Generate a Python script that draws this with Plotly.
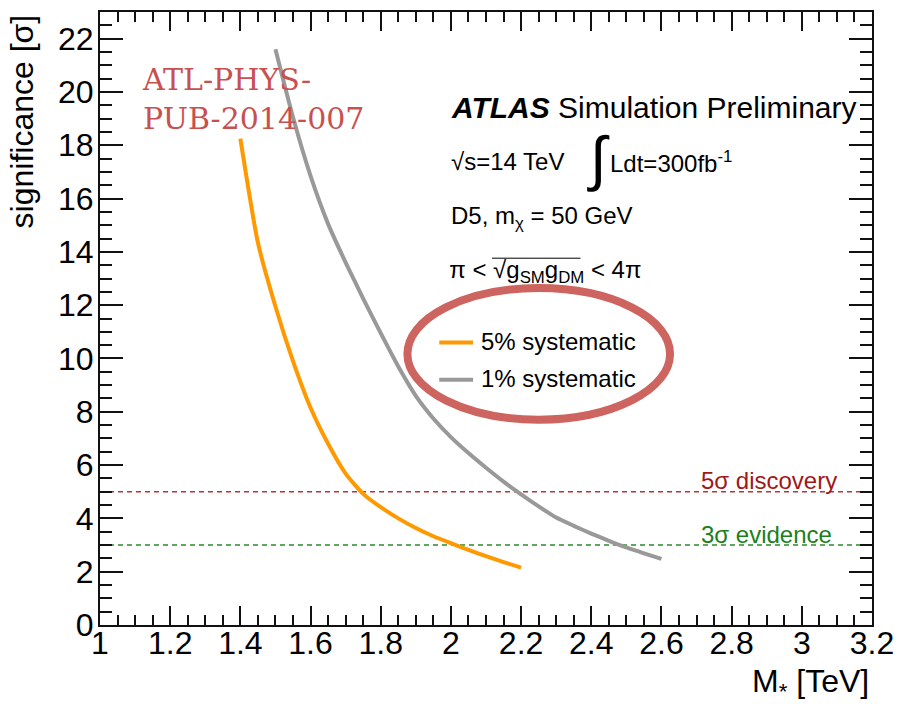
import plotly.graph_objects as go

# ---------------- data ----------------
mass_5pct = [1.40, 1.45, 1.50, 1.55, 1.60, 1.65, 1.70, 1.75, 1.80, 1.85,
             1.90, 1.95, 2.00, 2.05, 2.10, 2.15, 2.20]
signif_5pct = [18.25, 14.35, 11.95, 9.9, 8.15, 6.8, 5.68, 4.92, 4.42, 4.0,
               3.64, 3.33, 3.07, 2.82, 2.58, 2.36, 2.15]

mass_1pct = [1.50, 1.55, 1.60, 1.65, 1.70, 1.75, 1.80, 1.85, 1.90, 1.95,
             2.00, 2.05, 2.10, 2.15, 2.20, 2.25, 2.30, 2.35, 2.40, 2.45,
             2.50, 2.55, 2.60]
signif_1pct = [21.6, 19.05, 16.85, 15.05, 13.6, 12.25, 10.95, 9.7, 8.6, 7.75,
               7.05, 6.45, 5.9, 5.38, 4.9, 4.45, 4.03, 3.72, 3.43, 3.16,
               2.91, 2.69, 2.48]

thresholds = [5, 3]
threshold_labels = ["5σ discovery", "3σ evidence"]
series_names = ["5% systematic", "1% systematic"]

X_RANGE = [1.0, 3.2]
Y_RANGE = [0, 23]

# ---------------- layout geometry (pixels) ----------------
W, H = 904, 704
L, R, T, B = 100, 28, 10, 79
PW, PH = W - L - R, H - T - B

def fx(px):
    return (px - L) / PW

def fy(py):
    return (H - B - py) / PH

def dx(px):
    return X_RANGE[0] + (px - L) / PW * (X_RANGE[1] - X_RANGE[0])

def dy(py):
    return Y_RANGE[0] + (H - B - py) / PH * (Y_RANGE[1] - Y_RANGE[0])

SANS = "Liberation Sans, Arial, Helvetica, sans-serif"
ORANGE = "#FF9900"
GRAY = "#999999"
DRED = "#A01818"
DGREEN = "#1A801A"
ELL = "rgb(205,100,95)"

fig = go.Figure()

# threshold lines
fig.add_trace(go.Scatter(x=X_RANGE, y=[thresholds[0]] * 2, mode="lines",
                         line=dict(color="#B03838", width=1.5, dash="5px,4px"),
                         showlegend=False, hoverinfo="skip"))
fig.add_trace(go.Scatter(x=X_RANGE, y=[thresholds[1]] * 2, mode="lines",
                         line=dict(color="#2A8A2A", width=1.5, dash="5px,4px"),
                         showlegend=False, hoverinfo="skip"))

# curves
fig.add_trace(go.Scatter(x=mass_5pct, y=signif_5pct, mode="lines",
                         line=dict(color=ORANGE, width=4, shape="spline",
                                   smoothing=0.6),
                         name=series_names[0], showlegend=False))
fig.add_trace(go.Scatter(x=mass_1pct, y=signif_1pct, mode="lines",
                         line=dict(color=GRAY, width=4, shape="spline",
                                   smoothing=0.6),
                         name=series_names[1], showlegend=False))

# coupling text line as a text trace so that the ellipse overlaps it
fig.add_trace(go.Scatter(x=[dx(451)], y=[dy(271)], mode="text",
                         text=["π < √g<sub>SM</sub>g<sub>DM</sub> < 4π"],
                         textposition="middle right",
                         textfont=dict(family=SANS, size=24, color="black"),
                         showlegend=False, hoverinfo="skip"))

ax_common = dict(
    showline=True, linecolor="#111111", linewidth=2, mirror="allticks",
    ticks="inside", tickcolor="#111111", tickwidth=1.5,
    showgrid=False, zeroline=False,
    tickfont=dict(family=SANS, size=32, color="black"),
)

fig.update_xaxes(range=X_RANGE, tick0=1, dtick=0.2, ticklen=19,
                 minor=dict(dtick=0.05, ticklen=10, ticks="inside",
                            tickcolor="#111111", tickwidth=1.5, showgrid=False),
                 ticklabelstandoff=-11, **ax_common)
fig.update_yaxes(range=Y_RANGE, tick0=0, dtick=2, ticklen=23,
                 minor=dict(dtick=0.5, ticklen=12, ticks="inside",
                            tickcolor="#111111", tickwidth=1.5, showgrid=False),
                 ticklabelstandoff=-2, **ax_common)

ann = []

def text(s, x, y, size=24, color="black", xanchor="left", yanchor="middle",
         family=SANS, angle=0):
    ann.append(dict(text=s, x=x, y=y, xref="paper", yref="paper",
                    xanchor=xanchor, yanchor=yanchor, showarrow=False,
                    textangle=angle, align="left",
                    font=dict(family=family, size=size, color=color)))

# axis titles
text("significance [σ]", fx(22), fy(10), size=32, xanchor="center",
     yanchor="top", angle=-90)
text("M<sub>*</sub> [TeV]", fx(875), fy(684), size=32, xanchor="right")

# ATLAS labels
text("<b><i>ATLAS</i></b> Simulation Preliminary", fx(451), fy(106), size=30)
text("√s=14 TeV", fx(451), fy(160), size=24)
text("∫", fx(588), fy(157), size=60)
text("Ldt=300fb<sup>-1</sup>", fx(611), fy(160), size=24)
text("D5, m<sub>χ</sub> = 50 GeV", fx(451), fy(216), size=24)

# threshold labels
text(threshold_labels[0], fx(843), fy(480), size=24, color=DRED,
     xanchor="right")
text(threshold_labels[1], fx(838), fy(534), size=24, color=DGREEN,
     xanchor="right")

# legend texts
text(series_names[0], fx(481), fy(341), size=24)
text(series_names[1], fx(481), fy(378), size=24)

# note
text("ATL-PHYS-<br>PUB-2014-007", fx(140), fy(97), size=30,
     color="rgb(200,80,80)", family="DejaVu Serif, serif")

shapes = [
    # legend samples
    dict(type="line", xref="paper", yref="paper", x0=fx(441), x1=fx(475),
         y0=fy(341.5), y1=fy(341.5), line=dict(color=ORANGE, width=4)),
    dict(type="line", xref="paper", yref="paper", x0=fx(441), x1=fx(475),
         y0=fy(379), y1=fy(379), line=dict(color=GRAY, width=4)),
    # sqrt overline
    dict(type="line", xref="paper", yref="paper", x0=fx(494), x1=fx(583),
         y0=fy(257), y1=fy(257), line=dict(color="black", width=1)),
    # ellipse
    dict(type="circle", xref="x", yref="y", x0=dx(409), x1=dx(673),
         y0=dy(419), y1=dy(287), line=dict(color=ELL, width=8), layer="above"),
]

fig.update_layout(
    width=W, height=H,
    margin=dict(l=L, r=R, t=T, b=B, pad=0),
    paper_bgcolor="white", plot_bgcolor="white",
    annotations=ann, shapes=shapes, showlegend=False,
)

fig.write_html(
    "out.html",
    config={"displayModeBar": False},
    post_script="document.body.style.margin='0';"
                "document.body.style.overflow='hidden';",
)
